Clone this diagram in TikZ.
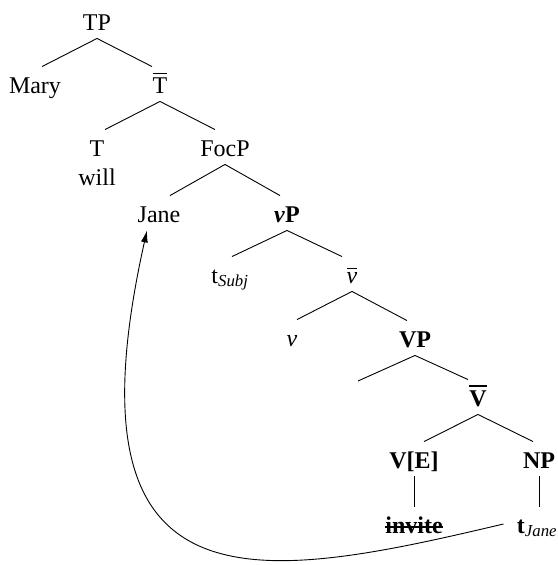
\documentclass[tikz,border=0pt]{standalone}
\usepackage{fontspec}
\setmainfont{Liberation Serif}
\usetikzlibrary{arrows.meta}
\newcommand{\barlabel}[2][0.9pt]{\leavevmode\vbox{\hrule height #1\kern 3.5pt\hbox{#2}}}
\begin{document}
\begin{tikzpicture}[x=1pt, y=-1pt, line width=0.9pt, every node/.style={anchor=base, inner sep=3pt, text height=23pt, text depth=5pt, font=\fontsize{24}{28}\selectfont}]
  \useasboundingbox (0,0) rectangle (557,565);
  % Upper tree: TP, T-bar, FocP
  \node (tp) at (97,30) {TP};
  \node (mary) at (35,93) {Mary};
  \node (tbar) at (160,93) {\barlabel{T}};
  \node (t) at (97,156) {T};
  \node (will) at (97,185) {will};
  \node (focp) at (225,156) {FocP};
  \node (jane) at (159,222) {Jane};
  % little v layer
  \node (lvp) at (287,222) {\textbf{\textit{v}P}};
  \node (tsubj) at (230,283) {t\textsubscript{\itshape Subj}};
  \node (lvbar) at (352,283) {\barlabel{\itshape v}};
  \node (lv) at (292,346) {\textit{v}};
  % VP layer (bold)
  \node (vp) at (415,347) {\textbf{VP}};
  \coordinate (vpspec) at (358,381);
  \node (vbar) at (478,406) {\barlabel[1.3pt]{\bfseries V}};
  \node (ve) at (414,468) {\textbf{V[E]}};
  \node (np) at (539,468) {\textbf{NP}};
  \node (invite) at (414,533) {\textbf{invite}};
  \node (tjane) at (537,533) {\textbf{t}\textsubscript{\itshape Jane}};

  % strike through the deleted copy
  \draw[line width=1.2pt] ([xshift=3pt,yshift=6pt]invite.base west) -- ([xshift=-3pt,yshift=6pt]invite.base east);

  % Branches
  \draw (tp.south) -- ([xshift=7pt]mary.north);
  \draw (tp.south) -- ([xshift=-8pt]tbar.north);
  \draw (tbar.south) -- ([xshift=8pt]t.north);
  \draw (tbar.south) -- ([xshift=-10pt]focp.north);
  \draw (focp.south) -- ([xshift=11pt]jane.north);
  \draw (focp.south) -- ([xshift=-7pt]lvp.north);
  \draw (lvp.south) -- ([xshift=2pt]tsubj.north);
  \draw (lvp.south) -- ([xshift=-10pt]lvbar.north);
  \draw (lvbar.south) -- ([xshift=5pt]lv.north);
  \draw (lvbar.south) -- ([xshift=-8pt]vp.north);
  \draw (vp.south) -- (vpspec);
  \draw (vp.south) -- ([xshift=-10pt]vbar.north);
  \draw (vbar.south) -- ([xshift=10pt]ve.north);
  \draw (vbar.south) -- ([xshift=-6pt]np.north);
  \draw (ve.south) -- (invite.north);
  \draw (np.south) -- ([xshift=2pt]tjane.north);

  % Movement of Jane
  \draw[-{Latex[length=12pt,width=7pt]}] ([xshift=-10pt]tjane.west) .. controls (258,582) and (60,620) .. ([xshift=-12pt]jane.south);
\end{tikzpicture}
\end{document}
